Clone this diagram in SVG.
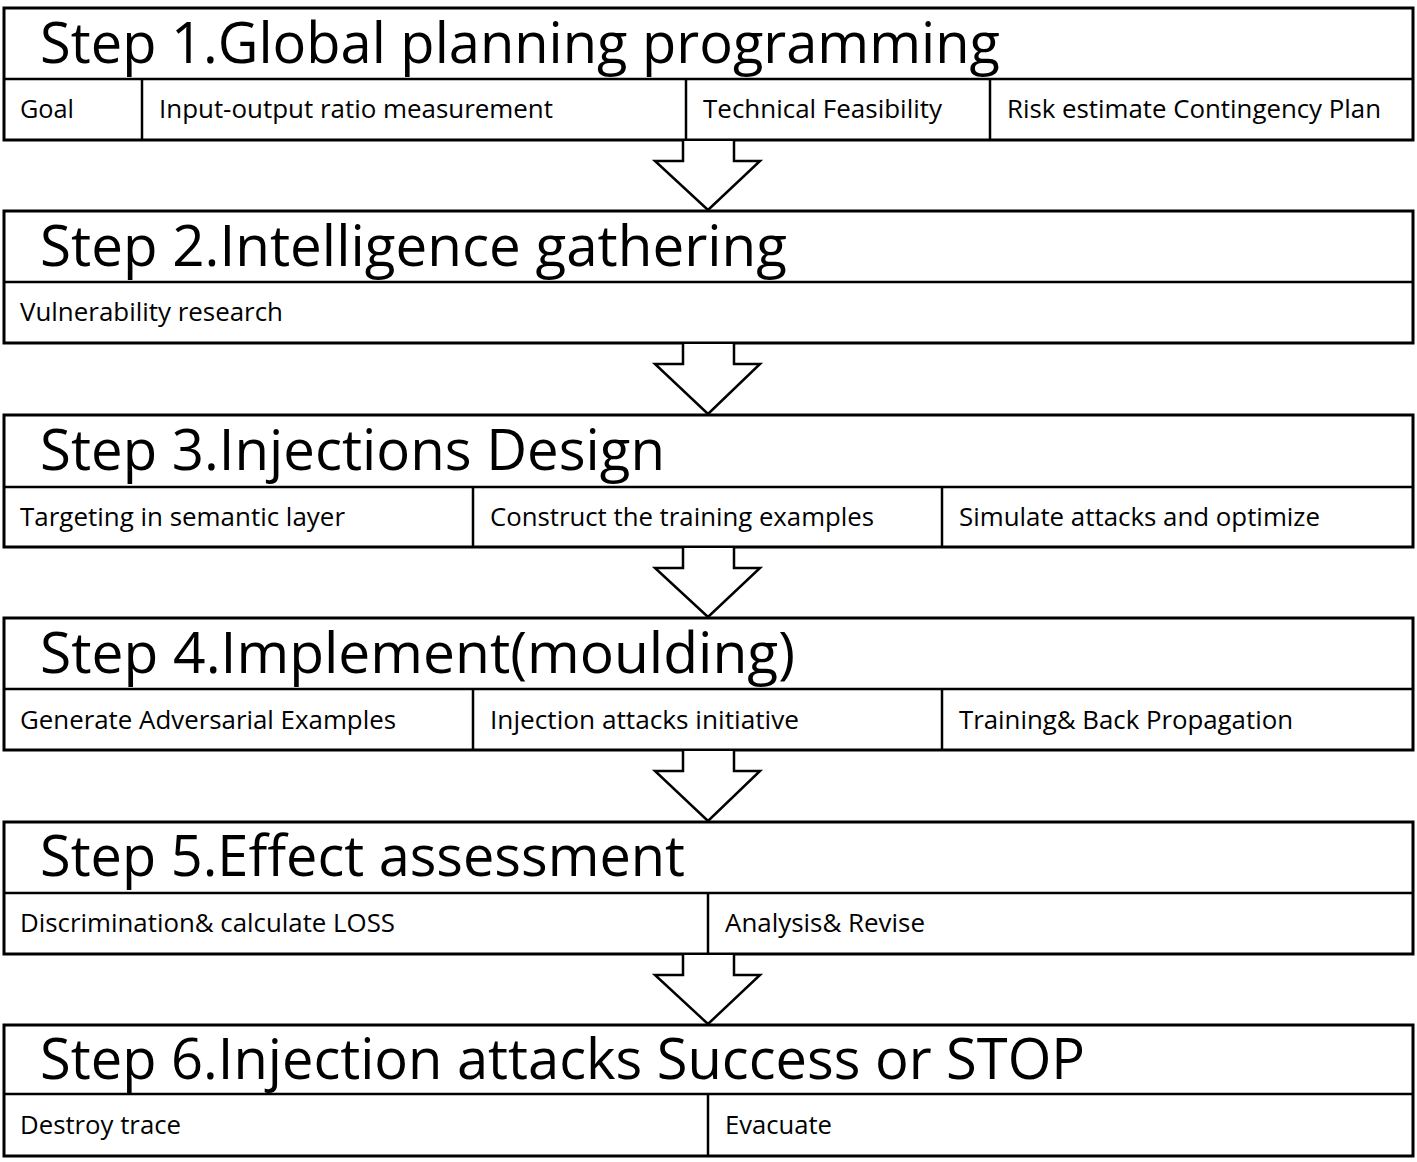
<svg xmlns="http://www.w3.org/2000/svg" width="1417" height="1162" viewBox="0 0 1417 1162">
<style>
.box{fill:#fff;stroke:#000;stroke-width:3}
.ln{stroke:#000;stroke-width:2.5;fill:none}
.arr{fill:#fff;stroke:#000;stroke-width:2.5;stroke-linejoin:miter}
.t{font-family:"Open Sans","Noto Sans",sans-serif;font-size:56px;fill:#000}
.s{font-family:"Open Sans","Noto Sans",sans-serif;font-size:25px;fill:#000}
</style>
<rect width="1417" height="1162" fill="#fff"/>
<g id="step1">
<rect class="box" x="4" y="8" width="1409" height="132"/>
<line class="ln" x1="4" y1="79" x2="1413" y2="79"/>
<line class="ln" x1="142" y1="79" x2="142" y2="140"/>
<line class="ln" x1="686" y1="79" x2="686" y2="140"/>
<line class="ln" x1="990" y1="79" x2="990" y2="140"/>
<text class="t" x="40" y="63" textLength="960" lengthAdjust="spacingAndGlyphs">Step 1.Global planning programming</text>
<text class="s" x="20" y="118" textLength="54" lengthAdjust="spacingAndGlyphs">Goal</text>
<text class="s" x="159" y="118" textLength="394" lengthAdjust="spacingAndGlyphs">Input-output ratio measurement</text>
<text class="s" x="703" y="118" textLength="239" lengthAdjust="spacingAndGlyphs">Technical Feasibility</text>
<text class="s" x="1007" y="118" textLength="374" lengthAdjust="spacingAndGlyphs">Risk estimate Contingency Plan</text>
</g>
<g id="step2">
<rect class="box" x="4" y="211" width="1409" height="132"/>
<line class="ln" x1="4" y1="282" x2="1413" y2="282"/>
<text class="t" x="40" y="266" textLength="747" lengthAdjust="spacingAndGlyphs">Step 2.Intelligence gathering</text>
<text class="s" x="20" y="321" textLength="263" lengthAdjust="spacingAndGlyphs">Vulnerability research</text>
</g>
<g id="step3">
<rect class="box" x="4" y="415" width="1409" height="132"/>
<line class="ln" x1="4" y1="487" x2="1413" y2="487"/>
<line class="ln" x1="473" y1="487" x2="473" y2="547"/>
<line class="ln" x1="942" y1="487" x2="942" y2="547"/>
<text class="t" x="40" y="470" textLength="625" lengthAdjust="spacingAndGlyphs">Step 3.Injections Design</text>
<text class="s" x="20" y="526" textLength="325" lengthAdjust="spacingAndGlyphs">Targeting in semantic layer</text>
<text class="s" x="490" y="526" textLength="384" lengthAdjust="spacingAndGlyphs">Construct the training examples</text>
<text class="s" x="959" y="526" textLength="361" lengthAdjust="spacingAndGlyphs">Simulate attacks and optimize</text>
</g>
<g id="step4">
<rect class="box" x="4" y="618" width="1409" height="132"/>
<line class="ln" x1="4" y1="689" x2="1413" y2="689"/>
<line class="ln" x1="473" y1="689" x2="473" y2="750"/>
<line class="ln" x1="942" y1="689" x2="942" y2="750"/>
<text class="t" x="40" y="673" textLength="755" lengthAdjust="spacingAndGlyphs">Step 4.Implement(moulding)</text>
<text class="s" x="20" y="729" textLength="376" lengthAdjust="spacingAndGlyphs">Generate Adversarial Examples</text>
<text class="s" x="490" y="729" textLength="309" lengthAdjust="spacingAndGlyphs">Injection attacks initiative</text>
<text class="s" x="959" y="729" textLength="334" lengthAdjust="spacingAndGlyphs">Training&amp; Back Propagation</text>
</g>
<g id="step5">
<rect class="box" x="4" y="822" width="1409" height="132"/>
<line class="ln" x1="4" y1="893" x2="1413" y2="893"/>
<line class="ln" x1="708" y1="893" x2="708" y2="954"/>
<text class="t" x="40" y="876" textLength="645" lengthAdjust="spacingAndGlyphs">Step 5.Effect assessment</text>
<text class="s" x="20" y="932" textLength="375" lengthAdjust="spacingAndGlyphs">Discrimination&amp; calculate LOSS</text>
<text class="s" x="725" y="932" textLength="200" lengthAdjust="spacingAndGlyphs">Analysis&amp; Revise</text>
</g>
<g id="step6">
<rect class="box" x="4" y="1025" width="1409" height="131"/>
<line class="ln" x1="4" y1="1094" x2="1413" y2="1094"/>
<line class="ln" x1="708" y1="1094" x2="708" y2="1156"/>
<text class="t" x="40" y="1079" textLength="1045" lengthAdjust="spacingAndGlyphs">Step 6.Injection attacks Success or STOP</text>
<text class="s" x="20" y="1134" textLength="161" lengthAdjust="spacingAndGlyphs">Destroy trace</text>
<text class="s" x="725" y="1134" textLength="107" lengthAdjust="spacingAndGlyphs">Evacuate</text>
</g>
<g id="connectors">
<path class="arr" d="M683,141 L683,161 L655,161 L708,210 L760,161 L734,161 L734,141"/>
<path class="arr" d="M683,344 L683,364 L655,364 L708,414 L760,364 L734,364 L734,344"/>
<path class="arr" d="M683,548 L683,568 L655,568 L708,617 L760,568 L734,568 L734,548"/>
<path class="arr" d="M683,751 L683,771 L655,771 L708,821 L760,771 L734,771 L734,751"/>
<path class="arr" d="M683,955 L683,975 L655,975 L708,1024 L760,975 L734,975 L734,955"/>
</g>
</svg>
